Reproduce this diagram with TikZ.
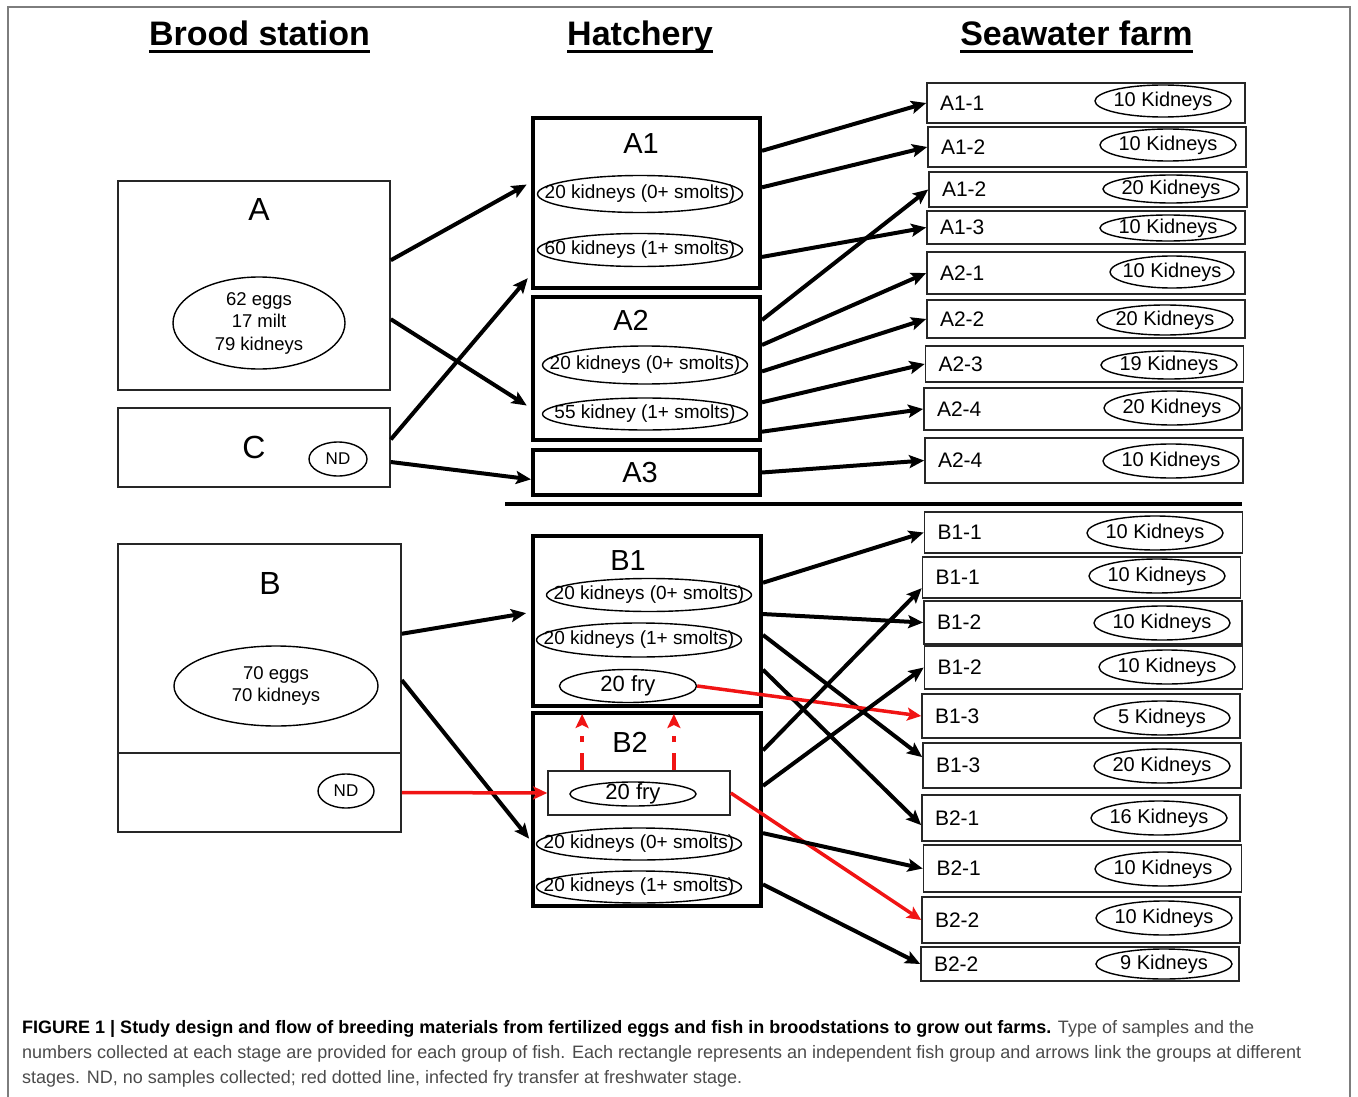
\documentclass[tikz,border=0pt]{standalone}
\usepackage{fontspec}
\setmainfont{Liberation Sans}
\usepackage{tikz}
\usetikzlibrary{positioning, calc, arrows.meta, shapes.geometric}

\definecolor{capgray}{RGB}{75,75,75}
\definecolor{framegray}{RGB}{125,125,125}
\definecolor{fryred}{RGB}{240,20,20}

\tikzset{
  % boxes
  brood/.style={draw=black!85, line width=1.6pt, rectangle, inner sep=0pt},
  hatch/.style={draw, line width=4pt, rectangle, inner sep=0pt},
  farm/.style={draw=black!85, line width=1.6pt, rectangle, minimum width=318pt,
    minimum height=40pt, inner xsep=13pt, text width=292pt, align=left,
    font=\fontsize{21}{24}\selectfont},
  % ovals with text that may touch the rim
  oval/.style={draw, ellipse, line width=1.4pt, inner xsep=0pt, inner ysep=-4pt,
    execute at begin node={\hbox to 0pt\bgroup\hss},
    execute at end node={\hss\egroup}},
  kid/.style={oval, minimum width=136pt, minimum height=32pt, font=\fontsize{20}{24}\selectfont},
  hk/.style={oval, minimum width=205pt, minimum height=34pt, font=\fontsize{19}{22}\selectfont},
  fry/.style={oval, font=\fontsize{22}{26}\selectfont},
  nd/.style={oval, minimum width=58pt, minimum height=34pt, font=\fontsize{17}{20}\selectfont},
  stock/.style={draw, ellipse, line width=1.4pt, inner sep=0pt, align=center,
    font=\fontsize{18.5}{22.5}\selectfont},
  % labels
  title/.style={inner sep=0pt, anchor=base, font=\fontsize{34}{40}\selectfont\bfseries},
  uline/.style={line width=3pt},
  bname/.style={font=\fontsize{32}{36}\selectfont},
  hname/.style={font=\fontsize{29}{34}\selectfont},
  % connectors
  flow/.style={line width=4pt, -{Stealth[length=15pt, width=13pt, inset=3pt]}},
  inf/.style={flow, draw=fryred, line width=3.5pt,
    -{Stealth[length=14pt, width=13pt, inset=3pt]}},
  fryup/.style={inf, dash pattern=on 17pt off 11pt on 6pt off 12pt, shorten >=6pt}
}

\begin{document}
\begin{tikzpicture}[x=1pt, y=-1pt]

    \useasboundingbox (0,0) rectangle (1358,1097);
    \draw[framegray, line width=1.5pt] (8,1097) -- (8,7) -- (1350,7) -- (1350,1097);

    % --- Column titles ---
    \node[title] (tbrood) at (259.5,46) {Brood station};
    \node[title] (thatch) at (640,46) {Hatchery};
    \node[title] (tfarm) at (1076.5,46) {Seawater farm};
    \draw[uline] ([yshift=-6pt]tbrood.base west) -- ([yshift=-6pt]tbrood.base east);
    \draw[uline] ([yshift=-6pt]thatch.base west) -- ([yshift=-6pt]thatch.base east);
    \draw[uline] ([yshift=-6pt]tfarm.base west) -- ([yshift=-6pt]tfarm.base east);

    % --- Brood station ---
    \node[brood, minimum width=272pt, minimum height=209pt] (A) at (254,285.5) {};
    \node[bname] (Alab) at (259,209) {A};
    \node[stock, minimum width=172pt, minimum height=92pt] (Astock) at (259,323)
        {62 eggs\\17 milt\\79 kidneys};
    \node[brood, minimum width=272pt, minimum height=79pt] (C) at (254,447.5) {};
    \node[bname] (Clab) at (254,447) {C};
    \node[nd] (Cnd) at (338,459) {ND};
    \node[brood, minimum width=283pt, minimum height=209pt] (B) at (259.5,648.5) {};
    \node[bname] (Blab) at (270,583) {B};
    \node[stock, minimum width=204pt, minimum height=80pt] (Bstock) at (276,686)
        {70 eggs\\70 kidneys};
    \node[brood, minimum width=283pt, minimum height=79pt] (Bnd) at (259.5,792.5) {};
    \node[nd, minimum width=56pt] (Bndk) at (346,791) {ND};

    % --- Hatchery ---
    \node[hatch, minimum width=227pt, minimum height=170pt] (A1) at (646.5,203) {};
    \node[hname] (A1lab) at (641,144) {A1};
    \node[hk, minimum height=37pt] (A1k0) at (640,194) {20 kidneys (0+ smolts)};
    \node[hk, minimum height=33pt] (A1k1) at (640,250) {60 kidneys (1+ smolts)};
    \node[hatch, minimum width=227pt, minimum height=143pt] (A2) at (646.5,368.5) {};
    \node[hname] (A2lab) at (631,320) {A2};
    \node[hk, minimum height=38pt] (A2k0) at (645,365) {20 kidneys (0+ smolts)};
    \node[hk, minimum height=32pt] (A2k1) at (645,414) {55 kidney (1+ smolts)};
    \node[hatch, minimum width=227pt, minimum height=45pt] (A3) at (646.5,472.5) {};
    \node[hname] (A3lab) at (640,473) {A3};

    \coordinate (divl) at (505,504);
    \coordinate (divr) at (1242,504);
    \draw[line width=4pt] (divl) -- (divr);

    \node[hatch, minimum width=228pt, minimum height=170pt] (B1) at (647,621) {};
    \node[hname] (B1lab) at (628,561) {B1};
    \node[hk, minimum height=33pt] (B1k0) at (649,595) {20 kidneys (0+ smolts)};
    \node[hk, minimum height=34pt] (B1k1) at (639,640) {20 kidneys (1+ smolts)};
    \node[fry, minimum width=137pt, minimum height=33pt] (fry1) at (628,686) {20 fry};
    \node[hatch, minimum width=228pt, minimum height=193pt] (B2) at (647,809.5) {};
    \node[hname] (B2lab) at (630,742) {B2};
    \node[brood, minimum width=182pt, minimum height=44pt] (fry2box) at (639,793) {};
    \node[fry, minimum width=126pt, minimum height=24pt] (fry2) at (633,794) {20 fry};
    \node[hk, minimum height=32pt] (B2k0) at (639,844) {20 kidneys (0+ smolts)};
    \node[hk, minimum height=32pt] (B2k1) at (639,887) {20 kidneys (1+ smolts)};

    % --- Seawater farm ---
    \node[farm] (a11) at (1086,103) {A1-1};
    \node[kid] (a11k) at (1163,101) {10 Kidneys};
    \node[farm] (a12) at (1087,147) {A1-2};
    \node[kid] (a12k) at (1168,145) {10 Kidneys};
    \node[farm, minimum height=35pt] (a12b) at (1088,189.5) {A1-2};
    \node[kid, minimum height=28pt] (a12bk) at (1171,189) {20 Kidneys};
    \node[farm, minimum height=33pt] (a13) at (1086,227.5) {A1-3};
    \node[kid, minimum height=26pt] (a13k) at (1168,228) {10 Kidneys};
    \node[farm, minimum height=42pt] (a21) at (1086,273) {A2-1};
    \node[kid, minimum width=124pt] (a21k) at (1172,272) {10 Kidneys};
    \node[farm, minimum height=38pt] (a22) at (1086,319) {A2-2};
    \node[kid, minimum height=30pt] (a22k) at (1165,320) {20 Kidneys};
    \node[farm, minimum height=36pt] (a23) at (1084.5,364) {A2-3};
    \node[kid, minimum height=28pt] (a23k) at (1169,365) {19 Kidneys};
    \node[farm, minimum height=42pt] (a24) at (1083,409) {A2-4};
    \node[kid, minimum height=34pt] (a24k) at (1172,408) {20 Kidneys};
    \node[farm, minimum height=45pt] (a24b) at (1084,460.5) {A2-4};
    \node[kid, minimum height=34pt] (a24bk) at (1171,461) {10 Kidneys};

    \node[farm, minimum height=41pt] (b11) at (1083.5,532.5) {B1-1};
    \node[kid, minimum height=34pt] (b11k) at (1155,533) {10 Kidneys};
    \node[farm, minimum height=41pt] (b11b) at (1081.5,577.5) {B1-1};
    \node[kid, minimum height=34pt] (b11bk) at (1157,576) {10 Kidneys};
    \node[farm, minimum height=43pt] (b12) at (1083,622.5) {B1-2};
    \node[kid, minimum height=34pt] (b12k) at (1162,623) {10 Kidneys};
    \node[farm, minimum height=43pt] (b12b) at (1083.5,667.5) {B1-2};
    \node[kid, minimum height=34pt] (b12bk) at (1167,667) {10 Kidneys};
    \node[farm, minimum height=44pt] (b13) at (1081,716) {B1-3};
    \node[kid, minimum height=34pt] (b13k) at (1162,718) {5 Kidneys};
    \node[farm, minimum height=45pt] (b13b) at (1082,765.5) {B1-3};
    \node[kid, minimum height=34pt] (b13bk) at (1162,766) {20 Kidneys};
    \node[farm, minimum height=46pt] (b21) at (1081,818) {B2-1};
    \node[kid, minimum height=34pt] (b21k) at (1159,818) {16 Kidneys};
    \node[farm, minimum height=47pt] (b21b) at (1082.5,868.5) {B2-1};
    \node[kid, minimum height=34pt] (b21bk) at (1163,869) {10 Kidneys};
    \node[farm, minimum height=46pt] (b22) at (1081,920) {B2-2};
    \node[kid, minimum height=34pt] (b22k) at (1164,918) {10 Kidneys};
    \node[farm, minimum height=34pt] (b22b) at (1080,964) {B2-2};
    \node[kid, minimum height=30pt] (b22bk) at (1164,964) {9 Kidneys};

    % --- Brood station to hatchery ---
    \draw[flow, shorten >=5pt] ($(A.north east)!.38!(A.south east)$) -- ($(A1.north west)!.38!(A1.south west)$);
    \draw[flow, shorten >=5pt] ($(A.north east)!.66!(A.south east)$) -- ($(A2.north west)!.77!(A2.south west)$);
    \draw[flow, shorten >=5pt] ($(C.north east)!.4!(C.south east)$) -- ($(A1.north west)!.91!(A1.south west)$);
    \draw[flow] ($(C.north east)!.68!(C.south east)$) -- ($(A3.north west)!.64!(A3.south west)$);
    \draw[flow, shorten >=5pt] ($(B.north east)!.43!(B.south east)$) -- ($(B1.north west)!.45!(B1.south west)$);
    \draw[flow, shorten >=3pt] ($(B.north east)!.65!(B.south east)$) -- ($(B2.north west)!.66!(B2.south west)$);
    \draw[inf] (Bnd.east) -- (fry2box.west);

    % --- Hatchery to seawater farm ---
    \draw[flow] ($(A1.north east)!.2!(A1.south east)$) -- (a11.west);
    \draw[flow] ($(A1.north east)!.41!(A1.south east)$) -- (a12.west);
    \draw[flow] ($(A1.north east)!.81!(A1.south east)$) -- (a13.west);
    \draw[flow] ($(A2.north east)!.17!(A2.south east)$) -- (a12b.west);
    \draw[flow] ($(A2.north east)!.34!(A2.south east)$) -- (a21.west);
    \draw[flow] ($(A2.north east)!.52!(A2.south east)$) -- (a22.west);
    \draw[flow] ($(A2.north east)!.73!(A2.south east)$) -- (a23.west);
    \draw[flow] ($(A2.north east)!.93!(A2.south east)$) -- (a24.west);
    \draw[flow] (A3.east) -- (a24b.west);

    \draw[flow] ($(B1.north east)!.28!(B1.south east)$) -- (b11.west);
    \draw[flow] ($(B1.north east)!.46!(B1.south east)$) -- (b12.west);
    \draw[flow] ($(B1.north east)!.58!(B1.south east)$) -- ($(b13b.north west)!.32!(b13b.south west)$);
    \draw[flow] ($(B1.north east)!.78!(B1.south east)$) -- ($(b21.north west)!.65!(b21.south west)$);
    \draw[inf] (fry1.east) -- (b13.west);
    \draw[flow] ($(B2.north east)!.2!(B2.south east)$) -- ($(b11b.north west)!.75!(b11b.south west)$);
    \draw[flow] ($(B2.north east)!.38!(B2.south east)$) -- (b12b.west);
    \draw[inf] (fry2box.east) -- (b22.west);
    \draw[flow] ($(B2.north east)!.62!(B2.south east)$) -- (b21b.west);
    \draw[flow] ($(B2.north east)!.88!(B2.south east)$) -- (b22b.west);

    % infected fry moved up from B2 to B1
    \coordinate (up1) at ($(fry2box.north west)!.19!(fry2box.north east)$);
    \coordinate (up2) at ($(fry2box.north west)!.69!(fry2box.north east)$);
    \draw[fryup] (up1) -- (up1 |- B1.south);
    \draw[fryup] (up2) -- (up2 |- B1.south);

    % --- Caption ---
    \node[anchor=base west, align=left, inner sep=0pt, text=capgray,
          font=\fontsize{18}{25}\selectfont] (cap) at (22,1083)
        {{\color{black}\bfseries FIGURE 1 | Study design and flow of breeding materials from fertilized eggs and fish in broodstations to grow out farms.} Type of samples and the\\
         numbers collected at each stage are provided for each group of fish. Each rectangle represents an independent fish group and arrows link the groups at different\\
         stages. ND, no samples collected; red dotted line, infected fry transfer at freshwater stage.};

\end{tikzpicture}
\end{document}
